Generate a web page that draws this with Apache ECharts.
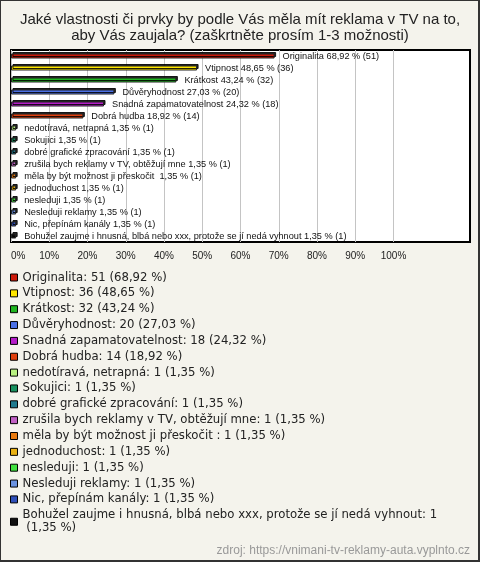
<!DOCTYPE html>
<html>
<head>
<meta charset="utf-8">
<script src="https://cdn.jsdelivr.net/npm/echarts@6/dist/echarts.min.js"></script>
<style>
html,body{margin:0;padding:0;background:#f4f3ec;}
#wrap{position:relative;width:480px;height:562px;}
#chart{width:480px;height:562px;}
#frame{position:absolute;left:0;top:0;width:480px;height:562px;box-sizing:border-box;border-style:solid;border-color:#333;border-width:1px 2px 2px 1px;pointer-events:none;}
</style>
</head>
<body>
<div id="wrap"><div id="chart"></div><div id="frame"></div></div>
<script>
const titleText = 'Jaké vlastnosti či prvky by podle Vás měla mít reklama v TV na to,\naby Vás zaujala? (zaškrtněte prosím 1-3 možnosti)';
const sourceText = 'zdroj: https://vnimani-tv-reklamy-auta.vyplnto.cz';
const categories = [
  'Originalita',
  'Vtipnost',
  'Krátkost',
  'Důvěryhodnost',
  'Snadná zapamatovatelnost',
  'Dobrá hudba',
  'nedotíravá, netrapná',
  'Sokujici',
  'dobré grafické zpracování',
  'zrušila bych reklamy v TV, obtěžují mne',
  'měla by být možnost ji přeskočit ',
  'jednoduchost',
  'nesleduji',
  'Nesleduji reklamy',
  'Nic, přepínám kanály',
  'Bohužel zaujme i hnusná, blbá nebo xxx, protože se jí nedá vyhnout'
];
const counts = [51, 36, 32, 20, 18, 14, 1, 1, 1, 1, 1, 1, 1, 1, 1, 1];
const percents = [68.92, 48.65, 43.24, 27.03, 24.32, 18.92, 1.35, 1.35, 1.35, 1.35, 1.35, 1.35, 1.35, 1.35, 1.35, 1.35];
const colors = ['#cc1a0a', '#ffe600', '#1fb51f', '#4a70e6', '#b41cc8', '#e0400e', '#b8f080', '#17905e', '#1f7a8e', '#c060c4', '#e87a10', '#e8b012', '#40e040', '#6a92e0', '#2e4fb8', '#111111'];
const tickValues = [0, 10, 20, 30, 40, 50, 60, 70, 80, 90, 100];

const fmt = v => v.toFixed(2).replace('.', ',');

const series = categories.map((name, i) => ({
  type: 'bar',
  name: name,
  stack: 'all',
  barWidth: 5,
  data: categories.map((c, j) => j === i ? percents[i] : '-'),
  itemStyle: {
    color: colors[i],
    borderColor: '#222',
    borderWidth: 1,
    shadowColor: 'rgba(0,0,0,0.85)',
    shadowOffsetX: 1.5,
    shadowOffsetY: -1.5,
    shadowBlur: 0
  },
  label: {
    show: true,
    position: 'right',
    distance: 8,
    fontFamily: 'Liberation Sans',
    fontSize: 9.2,
    color: '#111',
    formatter: () => name + ' ' + fmt(percents[i]) + ' % (' + counts[i] + ')'
  },
  emphasis: { disabled: true },
  animation: false
}));

const gridColors = [];
for (let k = 0; k <= 12; k++) gridColors.push(k <= 10 ? '#c4c4c4' : 'rgba(0,0,0,0)');

const chart = echarts.init(document.getElementById('chart'), null, { renderer: 'canvas' });
chart.setOption({
  backgroundColor: '#f4f3ec',
  animation: false,
  title: [
    {
      text: titleText,
      left: 'center',
      top: 12,
      padding: 0,
      textStyle: { fontFamily: 'Liberation Sans', fontSize: 15, fontWeight: 'normal', color: '#222', lineHeight: 16 }
    },
    {
      text: sourceText,
      right: 10,
      top: 545,
      padding: 0,
      textStyle: { fontFamily: 'Liberation Sans', fontSize: 12, fontWeight: 'normal', color: '#999' }
    }
  ],
  grid: {
    left: 11, right: 10, top: 50, height: 192,
    show: true, backgroundColor: '#fff', borderColor: '#000', borderWidth: 2,
    containLabel: false
  },
  xAxis: {
    type: 'value', min: 0, max: 120, interval: 10,
    axisLine: { show: false }, axisTick: { show: false },
    splitLine: { show: true, lineStyle: { color: gridColors, width: 1 } },
    axisLabel: {
      margin: 9,
      fontFamily: 'Liberation Sans', fontSize: 10, color: '#222',
      alignMinLabel: 'left',
      formatter: v => tickValues.includes(v) ? v + '%' : ''
    }
  },
  yAxis: {
    type: 'category', data: categories, inverse: true,
    axisLine: { show: false }, axisTick: { show: false }, axisLabel: { show: false },
    splitLine: { show: false }
  },
  legend: {
    orient: 'vertical',
    left: 10, top: 271,
    padding: 0,
    itemWidth: 7, itemHeight: 7, itemGap: 2.85,
    icon: 'rect',
    selectedMode: false,
    itemStyle: { borderColor: '#000', borderWidth: 1, shadowColor: 'rgba(0,0,0,0)', shadowBlur: 0, shadowOffsetX: 0, shadowOffsetY: 0 },
    textStyle: { fontFamily: 'DejaVu Sans', fontSize: 11.7, color: '#222', lineHeight: 13, width: 450, overflow: 'break' },
    data: categories,
    formatter: name => {
      const i = categories.indexOf(name);
      return name + ': ' + counts[i] + ' (' + fmt(percents[i]) + ' %)';
    }
  },
  series: series
});
</script>
</body>
</html>
